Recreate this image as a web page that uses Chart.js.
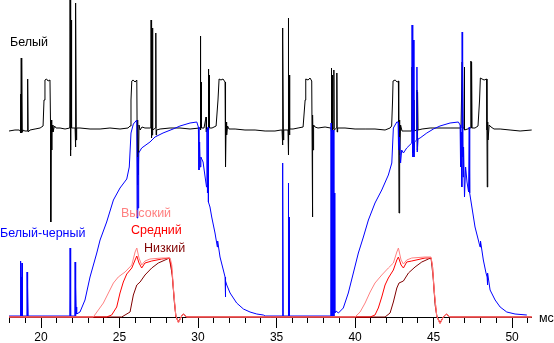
<!DOCTYPE html>
<html>
<head>
<meta charset="utf-8">
<script src="https://cdn.jsdelivr.net/npm/chart.js@4/dist/chart.umd.min.js"></script>
<style>
html,body{margin:0;padding:0;background:#fff;}
#wrap{width:554px;height:343px;position:relative;}
</style>
</head>
<body>
<div id="wrap"><canvas id="c" width="554" height="343"></canvas></div>
<script>
// time (ms), level (arbitrary units, 0 = black level)
const belyPoints = [[17.96,186],[18.34,187],[18.60,187],[18.68,186],[18.70,223],[18.72,184],[18.74,259],[18.76,184],[18.78,255],[18.80,185],[18.83,187],[18.98,186],[19.11,186],[19.13,238],[19.15,186],[19.17,235],[19.18,185],[19.30,187],[19.62,188],[19.94,189],[20.13,191],[20.19,217],[20.25,237],[20.35,238],[20.45,236],[20.57,237],[20.61,187],[20.62,95],[20.65,197],[20.68,167],[20.70,192],[20.76,185],[20.86,191],[20.96,189],[21.21,189],[21.53,188],[21.83,189],[21.85,317],[21.87,161],[21.88,317],[21.89,317],[21.90,167],[21.92,297],[21.93,297],[21.96,189],[22.17,189],[22.18,314],[22.20,170],[22.21,307],[22.22,307],[22.25,177],[22.27,189],[22.48,189],[23.12,188],[23.76,188],[24.39,189],[25.03,188],[25.54,189],[25.67,191],[25.73,217],[25.78,236],[25.86,237],[25.99,235],[26.10,237],[26.12,187],[26.14,132],[26.17,197],[26.20,142],[26.24,192],[26.31,187],[26.43,190],[26.62,189],[26.94,189],[26.99,189],[27.01,297],[27.03,179],[27.05,289],[27.07,182],[27.10,289],[27.12,187],[27.29,189],[27.31,284],[27.33,182],[27.36,187],[27.58,188],[28.22,189],[28.85,189],[29.49,188],[30.10,189],[30.13,189],[30.15,281],[30.17,187],[30.19,235],[30.22,189],[30.38,189],[30.51,200],[30.53,185],[30.64,189],[30.66,248],[30.68,187],[30.70,242],[30.73,189],[30.89,189],[31.15,191],[31.27,217],[31.34,238],[31.46,237],[31.59,238],[31.72,235],[31.74,187],[31.76,150],[31.79,195],[31.82,182],[31.88,191],[31.97,188],[32.36,188],[32.99,187],[33.63,187],[34.27,186],[34.90,186],[35.29,187],[35.35,187],[35.37,289],[35.39,172],[35.41,277],[35.44,177],[35.46,187],[35.73,187],[35.75,299],[35.77,162],[35.80,242],[35.82,182],[35.85,188],[36.05,188],[36.37,189],[36.69,190],[36.82,217],[36.86,238],[37.01,237],[37.13,239],[37.24,236],[37.26,187],[37.28,100],[37.31,202],[37.33,167],[37.36,192],[37.45,190],[37.64,189],[38.09,190],[38.44,189],[38.47,189],[38.49,249],[38.51,185],[38.54,242],[38.56,187],[38.63,189],[38.65,247],[38.67,187],[38.82,189],[38.84,244],[38.86,185],[38.89,189],[39.36,189],[40.00,188],[40.64,188],[41.27,188],[41.91,187],[42.23,189],[42.33,191],[42.39,217],[42.42,236],[42.55,237],[42.68,235],[42.76,236],[42.78,187],[42.80,104],[42.83,197],[42.85,162],[42.90,192],[42.99,186],[43.18,186],[43.50,186],[43.61,186],[43.63,250],[43.65,164],[43.68,247],[43.69,167],[43.72,217],[43.75,186],[43.92,187],[43.94,227],[43.96,167],[43.98,225],[44.01,187],[44.27,188],[44.78,189],[45.41,189],[46.05,189],[46.75,189],[46.80,189],[46.82,255],[46.83,187],[46.86,247],[46.88,189],[46.94,189],[46.96,250],[46.98,187],[47.36,189],[47.38,256],[47.40,189],[47.42,255],[47.45,189],[47.64,189],[47.83,191],[47.93,217],[47.98,239],[48.09,238],[48.22,237],[48.38,238],[48.40,187],[48.42,130],[48.45,195],[48.47,177],[48.54,192],[48.66,190],[48.85,188],[49.24,188],[49.87,187],[50.51,186],[51.25,187]];

const belyChernyPoints = [[17.96,1],[18.68,1],[18.69,56],[18.71,1],[18.73,40],[18.75,1],[18.79,54],[18.81,1],[19.10,1],[19.11,45],[19.13,1],[19.16,30],[19.18,1],[21.83,1],[21.85,69],[21.87,1],[21.89,40],[21.90,1],[22.15,1],[22.17,55],[22.19,1],[22.22,30],[22.24,5],[22.26,10],[22.28,3],[22.48,5],[22.80,17],[23.12,40],[23.55,64],[23.76,77],[24.18,95],[24.61,117],[25.03,129],[25.46,138],[25.62,150],[25.73,184],[25.88,193],[26.10,197],[26.12,99],[26.16,160],[26.18,109],[26.22,164],[26.41,169],[26.94,175],[27.26,180],[27.77,184],[28.41,188],[28.85,191],[29.49,194],[29.92,195],[30.02,190],[30.06,147],[30.10,175],[30.14,150],[30.18,160],[30.32,155],[30.45,140],[30.54,130],[30.57,188],[30.60,124],[30.64,190],[30.66,115],[30.76,110],[30.87,100],[31.08,84],[31.23,70],[31.25,76],[31.40,60],[31.61,47],[31.72,40],[31.74,20],[31.76,36],[31.83,32],[32.04,24],[32.46,14],[32.89,8],[33.31,5],[33.74,3],[34.16,2],[34.27,1],[35.35,1],[35.37,154],[35.39,1],[35.41,139],[35.43,1],[35.73,1],[35.75,134],[35.77,1],[35.80,100],[35.82,1],[38.45,1],[38.47,194],[38.49,1],[38.51,97],[38.54,1],[38.56,187],[38.59,1],[38.63,187],[38.65,1],[38.69,124],[38.71,4],[38.79,6],[38.94,4],[39.25,9],[39.57,24],[39.89,44],[40.21,64],[40.53,80],[40.85,97],[41.27,114],[41.70,127],[42.12,142],[42.34,154],[42.44,189],[42.66,195],[42.74,195],[42.77,167],[42.83,180],[42.90,154],[42.97,167],[43.08,164],[43.29,169],[43.61,174],[43.63,292],[43.65,160],[43.68,285],[43.69,165],[43.72,277],[43.75,160],[43.79,175],[43.92,177],[43.94,250],[43.96,165],[44.01,178],[44.14,179],[44.57,184],[44.99,188],[45.41,191],[46.05,194],[46.58,195],[46.69,192],[46.72,150],[46.75,185],[46.80,130],[46.82,285],[46.84,160],[46.86,250],[46.88,140],[46.91,170],[46.97,120],[47.04,150],[47.13,135],[47.23,125],[47.27,190],[47.30,124],[47.37,117],[47.47,107],[47.64,90],[47.85,77],[47.96,70],[47.99,76],[48.17,57],[48.34,44],[48.41,40],[48.43,32],[48.45,44],[48.60,27],[48.92,17],[49.24,10],[49.66,5],[50.19,3],[50.94,2]];

const vysokiyPoints = [[17.96,0],[23.33,0],[23.65,7],[23.97,14],[24.29,24],[24.61,34],[24.92,40],[25.35,45],[25.78,52],[25.99,65],[26.10,69],[26.24,59],[26.41,52],[26.62,56],[26.94,58],[27.69,59],[28.22,59],[28.33,52],[28.43,29],[28.58,2],[28.75,-6],[28.96,1],[29.06,3],[29.28,0],[40.00,0],[40.32,5],[40.64,14],[40.96,25],[41.27,34],[41.70,42],[42.12,49],[42.44,54],[42.66,65],[42.76,69],[42.93,57],[43.08,53],[43.29,57],[43.61,59],[44.46,60],[44.84,60],[44.92,52],[45.05,25],[45.20,1],[45.41,-7],[45.62,0],[45.80,3],[46.05,0],[51.25,0]];

const sredniyPoints = [[17.96,0],[24.18,0],[24.50,2],[24.82,10],[25.03,24],[25.24,35],[25.46,43],[25.78,49],[25.99,57],[26.10,61],[26.24,54],[26.41,49],[26.62,54],[27.05,56],[27.69,58],[28.17,59],[28.31,50],[28.43,28],[28.58,1],[28.75,-5],[28.96,1],[29.06,3],[29.28,0],[40.96,0],[41.27,2],[41.48,9],[41.70,20],[41.91,32],[42.12,39],[42.44,47],[42.66,57],[42.76,60],[42.93,52],[43.08,49],[43.29,55],[43.61,56],[44.46,59],[44.84,59],[44.94,50],[45.05,24],[45.20,1],[45.41,-6],[45.62,0],[45.80,3],[46.05,0],[51.25,0]];

const nizkiyPoints = [[17.96,0],[25.14,0],[25.35,2],[25.67,5],[25.88,22],[26.10,32],[26.31,35],[26.62,42],[27.05,49],[27.47,54],[27.90,57],[28.17,59],[28.36,42],[28.49,15],[28.60,0],[28.75,-5],[28.96,1],[29.06,3],[29.28,0],[41.91,0],[42.23,4],[42.44,15],[42.66,29],[42.80,34],[43.08,36],[43.40,44],[43.82,50],[44.25,55],[44.67,58],[44.84,59],[44.97,40],[45.10,12],[45.22,0],[45.41,-6],[45.62,0],[45.80,3],[46.05,0],[51.25,0]];

const seriesNames = ['Высокий','Средний','Низкий','Белый-черный','Белый'];
const xRange = [17.96, 51.25];
const labeledStep = 5;

const toXY = arr => arr.map(p => ({x: p[0], y: p[1]}));

const annotations = [
  {text: 'Белый', x: 10, y: 46, color: '#000000'},
  {text: 'Белый-черный', x: 0, y: 237, color: '#0000ff'},
  {text: 'Высокий', x: 121, y: 217, color: '#ff8080'},
  {text: 'Средний', x: 131, y: 234, color: '#ff0000'},
  {text: 'Низкий', x: 144, y: 252, color: '#800000'},
  {text: 'мс', x: 539, y: 322, color: '#000000'}
];

const textPlugin = {
  id: 'textPlugin',
  afterDatasetsDraw(chart) {
    const c = chart.ctx;
    c.save();
    c.font = '12.5px "Liberation Sans", Arial, sans-serif';
    c.textAlign = 'left';
    c.textBaseline = 'alphabetic';
    annotations.forEach(a => { c.fillStyle = a.color; c.fillText(a.text, a.x, a.y); });
    c.restore();
  }
};

const mk = (label, pts, color) => ({
  label, data: toXY(pts), borderColor: color, backgroundColor: color,
  borderWidth: 1, pointRadius: 0, tension: 0, fill: false, clip: false
});

new Chart(document.getElementById('c'), {
  type: 'line',
  data: {
    datasets: [
      mk(seriesNames[0], vysokiyPoints, '#ff8080'),
      mk(seriesNames[1], sredniyPoints, '#ff0000'),
      mk(seriesNames[2], nizkiyPoints, '#800000'),
      mk(seriesNames[3], belyChernyPoints, '#0000ff'),
      mk(seriesNames[4], belyPoints, '#000000')
    ]
  },
  options: {
    responsive: false,
    animation: false,
    devicePixelRatio: 1,
    layout: {padding: {left: 9, right: 22.3, top: 0, bottom: 0}},
    plugins: {legend: {display: false}, tooltip: {enabled: false}},
    scales: {
      x: {
        type: 'linear',
        min: xRange[0], max: xRange[1],
        afterFit: s => { s.height = 26; },
        border: {display: true, color: '#000000', width: 1},
        grid: {
          drawOnChartArea: false, drawTicks: true, tickLength: 11,
          tickColor: '#000000', tickWidth: 1,
          tickBorderDash: ctx => (ctx.tick && Math.round(ctx.tick.value) % labeledStep === 0) ? [] : [5, 50]
        },
        ticks: {
          stepSize: 1, includeBounds: false, autoSkip: false, maxRotation: 0,
          color: '#000000', padding: 2,
          font: {family: '"Liberation Sans", Arial, sans-serif', size: 12},
          callback: v => (Math.round(v) % labeledStep === 0) ? String(Math.round(v)) : ''
        }
      },
      y: {display: false, min: 0, max: 317}
    }
  },
  plugins: [textPlugin]
});
</script>
</body>
</html>
